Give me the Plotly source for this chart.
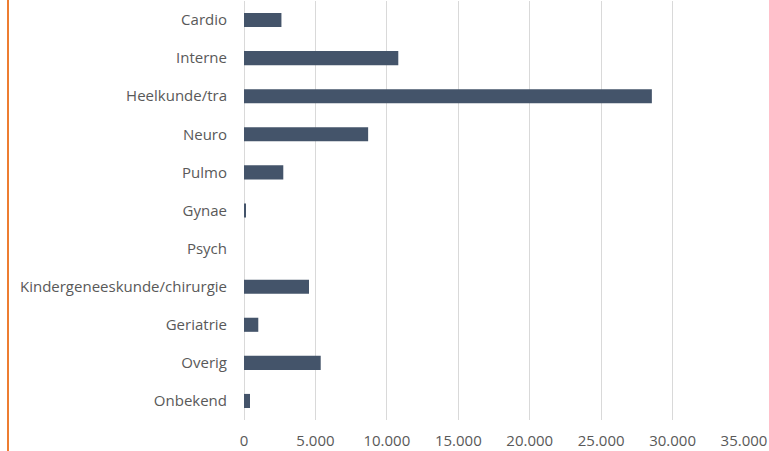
import plotly.graph_objects as go

categories = ["Cardio", "Interne", "Heelkunde/tra", "Neuro", "Pulmo", "Gynae", "Psych",
              "Kindergeneeskunde/chirurgie", "Geriatrie", "Overig", "Onbekend"]
values = [2620, 10800, 28550, 8690, 2750, 120, 0, 4550, 1000, 5370, 420]
tick_vals = [0, 5000, 10000, 15000, 20000, 25000, 30000, 35000]

fig = go.Figure(go.Bar(
    x=values, y=categories, orientation="h",
    marker=dict(color="#44546A", line=dict(width=0)),
))

fig.update_layout(
    width=769, height=451,
    margin=dict(l=244, r=25, t=1, b=31),
    paper_bgcolor="white", plot_bgcolor="white",
    separators=",.",
    bargap=0.63,
    showlegend=False,
    font=dict(family="Open Sans", size=15, color="#595959"),
    xaxis=dict(range=[0, 35000], tickvals=tick_vals, tickformat=",d",
               showgrid=True, gridcolor="#D9D9D9", gridwidth=1,
               zeroline=True, zerolinecolor="#D9D9D9", zerolinewidth=1,
               showline=False, ticklabelstandoff=10, fixedrange=True),
    yaxis=dict(categoryorder="array", categoryarray=categories[::-1],
               showgrid=False, zeroline=False, showline=False,
               ticklabelstandoff=16, fixedrange=True),
    shapes=[dict(type="line", xref="paper", yref="paper",
                 x0=-236/500, x1=-236/500, y0=-31/419, y1=1 + 1/419,
                 line=dict(color="#ED7D31", width=2))],
)

fig.write_html("out.html", config={"displayModeBar": False},
               post_script="document.body.style.margin='0';")
